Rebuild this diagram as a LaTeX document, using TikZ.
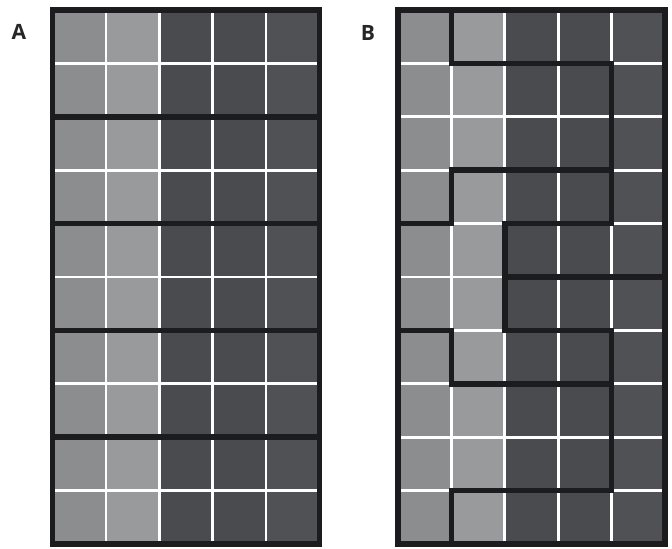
\documentclass[tikz,border=0pt]{standalone}
\usepackage{fontspec}
\setsansfont{Open Sans}
\usepackage{tikz}
\definecolor{cellLight}{RGB}{140,141,143}
\definecolor{cellPale}{RGB}{153,154,156}
\definecolor{cellDark}{RGB}{74,75,78}
\definecolor{cellDarkEdge}{RGB}{80,81,84}
\definecolor{wallInk}{RGB}{28,28,30}
\tikzset{
  panelLabel/.style={font=\sffamily\fontsize{15}{18}\selectfont, text=black!85, inner sep=0pt},
  gridLine/.style={draw=white, line width=1.9pt},
  wallLine/.style={draw=wallInk, line width=4pt, line join=miter, line cap=rect},
  frameLine/.style={draw=wallInk, line width=4pt}
}
\begin{document}
\begin{tikzpicture}[x=1.335cm, y=-1.335cm]
      \useasboundingbox (0,0) rectangle (12.584,10.262);
      \node[panelLabel] (labelA) at (0.356,0.6) {\fontseries{sb}\selectfont A};
      \node[panelLabel] (labelB) at (6.89,0.62) {\fontseries{sb}\selectfont B};
      \foreach \px in {0.983,7.453} {
        \begin{scope}[shift={(\px,0.187)}]
          \foreach \c/\col in {0/cellLight,1/cellPale,2/cellDark,3/cellDark,4/cellDarkEdge}
            \fill[\col] (\c,0) rectangle ++(1,10);
          \foreach \i in {1,...,4}
            \draw[gridLine] (\i,0) -- (\i,10);
          \foreach \j in {1,...,9}
            \draw[gridLine] (0,\j) -- (5,\j);
        \end{scope}
      }
      \begin{scope}[shift={(0.983,0.187)}]
        \foreach \j in {2,4,6,8}
          \draw[wallLine] (0,\j) -- (5,\j);
        \draw[frameLine] (0,0) rectangle (5,10);
      \end{scope}
      \begin{scope}[shift={(7.453,0.187)}]
        \draw[wallLine] (1,0) -- (1,1) -- (4,1) -- (4,4) -- (2,4) -- (2,6);
        \draw[wallLine] (4,3) -- (1,3) -- (1,4) -- (0,4);
        \draw[wallLine] (2,5) -- (5,5);
        \draw[wallLine] (0,6) -- (1,6) -- (1,7) -- (4,7);
        \draw[wallLine] (2,6) -- (4,6) -- (4,9) -- (1,9) -- (1,10);
        \draw[frameLine] (0,0) rectangle (5,10);
      \end{scope}
    \end{tikzpicture}
\end{document}
